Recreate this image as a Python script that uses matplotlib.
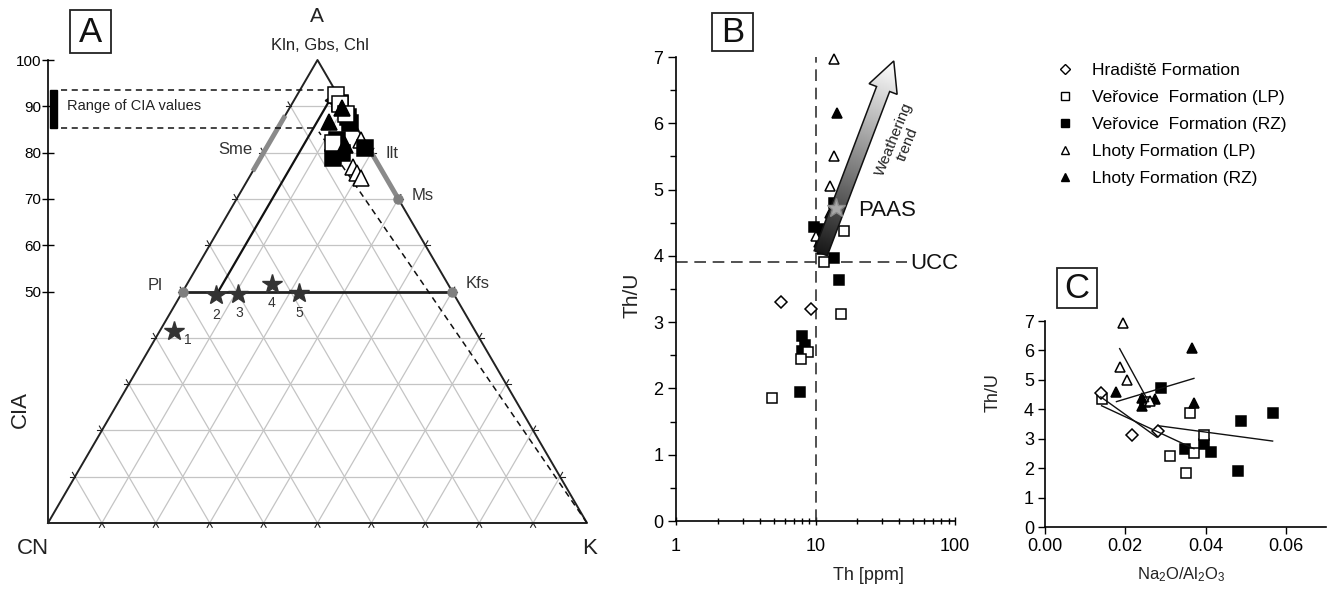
import numpy as np
import matplotlib
matplotlib.use('Agg')
import matplotlib.pyplot as plt
from matplotlib.lines import Line2D
from matplotlib.patches import Rectangle, Polygon
import matplotlib.ticker as mticker

plt.rcParams['font.family'] = ['Liberation Sans', 'DejaVu Sans']
plt.rcParams['mathtext.fontset'] = 'custom'
plt.rcParams['mathtext.rm'] = 'Liberation Sans'
plt.rcParams['mathtext.it'] = 'Liberation Sans:italic'

# ---------------- DATA ----------------
# Panel A (ternary A-CN-K): CIA (=A %) and K %
cia_ticks = [50, 60, 70, 80, 90, 100]
verLP_a_cia = [92.4, 90.5, 82.1, 88.3]
verLP_a_k = [7.2, 9.0, 11.8, 11.2]
verRZ_a_cia = [90.7, 87.7, 86.4, 82.7, 78.8, 79.9, 81.0]
verRZ_a_k = [8.8, 11.8, 12.8, 12.2, 13.5, 14.6, 18.3]
lhRZ_a_cia = [86.6, 89.6, 81.6]
lhRZ_a_k = [8.8, 9.8, 14.3]
lhLP_a_cia = [82.7, 76.9, 75.6, 74.5]
lhLP_a_k = [16.8, 18.2, 19.5, 20.8]
star_cia = [41.5, 49.2, 49.5, 51.6, 49.7]
star_k = [2.7, 6.6, 10.5, 15.7, 21.8]
star_labels = ['1', '2', '3', '4', '5']
mineral_names = ['Pl', 'Kfs', 'Ms']
mineral_cia = [50, 50, 70]
mineral_k = [0, 50, 30]
sme_cia = [76, 88]
sme_k = [0, 0]
ilt_cia = [80, 70]
ilt_k = [20, 30]
wline_cia = [49.2, 92.5]
wline_k = [6.6, 6.6]
kline_cia = [0, 84.5]
kline_k = [100, 8.0]
cia_range = [85.4, 93.5]

# Panel B: Th (ppm) vs Th/U
hrad_b_th = [5.7, 9.35]
hrad_b_thu = [3.31, 3.20]
verLP_b_th = [16.1, 11.5, 15.2, 8.8, 7.85, 4.9]
verLP_b_thu = [4.38, 3.90, 3.13, 2.55, 2.45, 1.85]
verRZ_b_th = [13.5, 9.7, 10.9, 13.5, 14.8, 8.0, 8.35, 8.0, 7.77]
verRZ_b_thu = [4.79, 4.44, 4.41, 3.97, 3.64, 2.79, 2.65, 2.56, 1.94]
lhLP_b_th = [13.5, 13.5, 12.7, 10.0]
lhLP_b_thu = [6.97, 5.51, 5.05, 4.30]
lhRZ_b_th = [14.3, 12.7, 10.6, 11.2, 10.4]
lhRZ_b_thu = [6.16, 4.65, 4.21, 4.10, 4.33]
ucc_th, ucc_thu = 10.0, 3.9
paas_th, paas_thu = 14.0, 4.72
trend_th = [10.9, 36.4]
trend_thu = [4.04, 6.94]

# Panel C: Na2O/Al2O3 vs Th/U
hrad_c_x = [0.0139, 0.0217, 0.0281]
hrad_c_y = [4.57, 3.13, 3.26]
verLP_c_x = [0.0141, 0.0250, 0.0311, 0.0352, 0.0361, 0.0371, 0.0396]
verLP_c_y = [4.34, 4.25, 2.41, 1.82, 3.86, 2.51, 3.11]
verRZ_c_x = [0.0288, 0.0348, 0.0396, 0.0414, 0.0482, 0.0488, 0.0567]
verRZ_c_y = [4.71, 2.64, 2.83, 2.55, 1.90, 3.59, 3.89]
lhLP_c_x = [0.0194, 0.0186, 0.0204, 0.0262]
lhLP_c_y = [6.92, 5.44, 4.99, 4.28]
lhRZ_c_x = [0.0178, 0.0242, 0.0242, 0.0275, 0.0367, 0.0371]
lhRZ_c_y = [4.60, 4.40, 4.12, 4.34, 6.08, 4.23]
fit_hrad_x, fit_hrad_y = [0.0139, 0.0279], [4.42, 3.05]
fit_verLP_x, fit_verLP_y = [0.0141, 0.0371], [4.12, 2.66]
fit_verRZ_x, fit_verRZ_y = [0.0283, 0.0567], [3.44, 2.92]
fit_lhLP_x, fit_lhLP_y = [0.0186, 0.0258], [6.06, 4.26]
fit_lhRZ_x, fit_lhRZ_y = [0.0178, 0.0371], [4.26, 5.05]
c_xticks = [0.00, 0.02, 0.04, 0.06]

legend_labels = ['Hradiště Formation', 'Veřovice  Formation (LP)',
                 'Veřovice  Formation (RZ)', 'Lhoty Formation (LP)',
                 'Lhoty Formation (RZ)']

# ---------------- FIGURE ----------------
W, H = 1329, 590
fig = plt.figure(figsize=(W / 100, H / 100), dpi=100)


def fbox(x0, y0, x1, y1):
    return [x0 / W, 1 - y1 / H, (x1 - x0) / W, (y1 - y0) / H]


def ftext(px, py, s, **kw):
    kw.setdefault('ha', 'center')
    kw.setdefault('va', 'center')
    return fig.text(px / W, 1 - py / H, s, **kw)


def letter_box(x0, y0, x1, y1, s):
    fig.add_artist(Rectangle((x0 / W, 1 - y1 / H), (x1 - x0) / W, (y1 - y0) / H,
                             transform=fig.transFigure, fill=False, lw=1.3, ec='#222222'))
    ftext((x0 + x1) / 2, (y0 + y1) / 2 + 1, s, fontsize=25, color='#111111')


STY = {
    'hrad': dict(marker='D', mfc='white', mec='black'),
    'verLP': dict(marker='s', mfc='white', mec='black'),
    'verRZ': dict(marker='s', mfc='black', mec='black'),
    'lhLP': dict(marker='^', mfc='white', mec='black'),
    'lhRZ': dict(marker='^', mfc='black', mec='black'),
}

# ======== Panel A ========
axA = fig.add_axes(fbox(48, 60, 587, 523))
axA.set_xlim(0, 1)
axA.set_ylim(0, 100)
axA.patch.set_alpha(0)
for s in ['top', 'right', 'bottom']:
    axA.spines[s].set_visible(False)
axA.spines['left'].set_linewidth(1.2)
axA.set_xticks([])
axA.set_yticks(cia_ticks)
axA.tick_params(axis='y', direction='inout', length=8, width=1, labelsize=11, pad=1)

SX, SY = 539.0, 463.0 / 100.0


def tx(cia, k):
    return np.asarray(k, float) / 100.0 + np.asarray(cia, float) / 200.0


def ext(p, q, L=5.0):
    d = np.array([(q[0] - p[0]) * SX, (q[1] - p[1]) * SY])
    d /= np.hypot(*d)
    return (q[0] + d[0] * L / SX, q[1] + d[1] * L / SY)


for v in range(10, 100, 10):
    segs = [((tx(v, 0), v), (tx(v, 100 - v), v)),
            ((tx(0, v), 0), (tx(100 - v, v), 100 - v)),
            ((tx(0, 100 - v), 0), (tx(100 - v, 0), 100 - v))]
    for p, q in segs:
        axA.plot([p[0], q[0]], [p[1], q[1]], color='#c4c4c4', lw=0.9, zorder=1)
        for a, b in [(p, q), (q, p)]:
            e = ext(a, b)
            axA.plot([b[0], e[0]], [b[1], e[1]], color='#222222', lw=0.8, zorder=2,
                     clip_on=False)

# triangle
axA.plot([0, 1, 0.5, 0], [0, 0, 100, 0], color='#222222', lw=1.4, zorder=3, clip_on=False)

# Sme and Ilt-Ms gray segments
axA.plot(tx(sme_cia, sme_k), sme_cia, color='#8a8a8a', lw=3.5, zorder=3, solid_capstyle='butt')
axA.plot(tx(ilt_cia, ilt_k), ilt_cia, color='#8a8a8a', lw=3.5, zorder=3, solid_capstyle='butt')

# Pl - Kfs line
axA.plot(tx(mineral_cia[:2], mineral_k[:2]), mineral_cia[:2], color='#222222', lw=2.0, zorder=3)
axA.plot(tx(mineral_cia, mineral_k), mineral_cia, 'o', ls='none', color='#7f7f7f', ms=6.5,
         zorder=4, clip_on=False)

# dashed line toward K and weathering line
axA.plot(tx(kline_cia, kline_k), kline_cia, color='#111111', lw=1.1, ls=(0, (4, 3)), zorder=3,
         clip_on=False)
wx = tx(wline_cia, wline_k)
axA.annotate('', xy=(wx[1], wline_cia[1]), xytext=(wx[0], wline_cia[0]),
             arrowprops=dict(arrowstyle='-|>', color='#111111', lw=1.6, mutation_scale=11,
                             shrinkA=0, shrinkB=0), zorder=3)

# CIA range
axA.add_patch(Rectangle((0.003, cia_range[0]), 0.013, cia_range[1] - cia_range[0],
                        color='black', zorder=4, clip_on=False))
x_hi = tx(cia_range[1], wline_k[0])
x_lo = 1 + (tx(kline_cia[1], kline_k[1]) - 1) * cia_range[0] / kline_cia[1]
axA.plot([0.024, x_hi], [cia_range[1]] * 2, color='#111111', lw=1.1, ls=(0, (4, 3)), zorder=3)
axA.plot([0.024, x_lo], [cia_range[0]] * 2, color='#111111', lw=1.1, ls=(0, (4, 3)), zorder=3)
ftext(67, 106, 'Range of CIA values', fontsize=10.5, ha='left', color='#222222')

# data points
for key, cx, kx in [('lhLP', lhLP_a_cia, lhLP_a_k), ('verRZ', verRZ_a_cia, verRZ_a_k),
                    ('verLP', verLP_a_cia, verLP_a_k), ('lhRZ', lhRZ_a_cia, lhRZ_a_k)]:
    axA.plot(tx(cx, kx), cx, ls='none', ms=11, mew=1.1, zorder=5, clip_on=False, **STY[key])

# stars
axA.plot(tx(star_cia, star_k), star_cia, ls='none', marker='*', ms=15, color='#333333', zorder=6)
star_lab_px = [(188, 340), (216, 315), (239, 313), (272, 303), (299, 313)]
for (px, py), s in zip(star_lab_px, star_labels):
    ftext(px, py, s, fontsize=10, color='#333333')

# texts A
for (px, py), s in zip([(155, 285), (478, 284), (423, 196)], mineral_names):
    ftext(px, py, s, fontsize=12, color='#333333')
ftext(235, 150, 'Sme', fontsize=12, color='#333333')
ftext(392, 153, 'Ilt', fontsize=12, color='#333333')
ftext(317, 17, 'A', fontsize=15, color='#222222')
ftext(320, 46, 'Kln, Gbs, Chl', fontsize=12, color='#222222')
ftext(33, 548, 'CN', fontsize=16, color='#222222')
ftext(590, 548, 'K', fontsize=16, color='#222222')
ftext(20, 410, 'CIA', fontsize=16, rotation=90, color='#222222')
letter_box(70, 10, 111, 53, 'A')

# ======== Panel B ========
axB = fig.add_axes(fbox(676, 57, 955, 521))
axB.set_xscale('log')
axB.set_xlim(1, 100)
axB.set_ylim(0, 7)
axB.patch.set_alpha(0)
for s in ['top', 'right']:
    axB.spines[s].set_visible(False)
for s in ['left', 'bottom']:
    axB.spines[s].set_linewidth(1.2)
axB.set_yticks(range(0, 8))
axB.yaxis.set_minor_locator(mticker.MultipleLocator(0.5))
axB.xaxis.set_major_locator(mticker.FixedLocator([1, 10, 100]))
axB.xaxis.set_major_formatter(mticker.FixedFormatter(['1', '10', '100']))
axB.xaxis.set_minor_locator(mticker.LogLocator(base=10, subs=np.arange(2, 10)))
axB.xaxis.set_minor_formatter(mticker.NullFormatter())
axB.tick_params(axis='both', which='major', labelsize=13, width=1, length=6, pad=3)
axB.tick_params(axis='both', which='minor', width=1, length=4)
axB.tick_params(axis='x', which='both', direction='inout')
axB.tick_params(axis='x', which='major', pad=9)

axB.axhline(ucc_thu, xmin=0, xmax=np.log10(45) / 2, color='#333333', lw=1.2,
            ls=(0, (7, 4)), zorder=2)
axB.axvline(ucc_th, color='#333333', lw=1.2, ls=(0, (7, 4)), zorder=2)

for key, xs, ys in [('verRZ', verRZ_b_th, verRZ_b_thu), ('verLP', verLP_b_th, verLP_b_thu),
                    ('lhRZ', lhRZ_b_th, lhRZ_b_thu), ('lhLP', lhLP_b_th, lhLP_b_thu),
                    ('hrad', hrad_b_th, hrad_b_thu)]:
    ms = 6.5 if key == 'hrad' else 7.5
    axB.plot(xs, ys, ls='none', ms=ms, mew=1.1, zorder=4, clip_on=False, **STY[key])

# gradient arrow (weathering trend)
p0 = axB.transData.transform((trend_th[0], trend_thu[0]))
p1 = axB.transData.transform((trend_th[1], trend_thu[1]))
u = p1 - p0
L = np.hypot(*u)
u = u / L
n = np.array([-u[1], u[0]])
w, hw, hl = 7.0, 15.0, 30.0
pts = [p0 + n * w, p1 - u * hl + n * w, p1 - u * hl + n * hw, p1,
       p1 - u * hl - n * hw, p1 - u * hl - n * w, p0 - n * w]
pts_ax = axB.transAxes.inverted().transform(np.array(pts))
poly = Polygon(pts_ax, closed=True, transform=axB.transAxes, fc='none', ec='#111111',
               lw=1.1, zorder=6)
axB.add_patch(poly)
bb = axB.bbox
gx = np.linspace(0, 1, 300)
gy = np.linspace(0, 1, 500)
GX, GY = np.meshgrid(gx, gy)
DX = bb.x0 + GX * bb.width
DY = bb.y0 + GY * bb.height
t = np.clip(((DX - p0[0]) * u[0] + (DY - p0[1]) * u[1]) / L, 0, 1)
img = axB.imshow(t, origin='lower', extent=(0, 1, 0, 1), transform=axB.transAxes,
                 cmap='gray', vmin=-0.1, vmax=1.0, aspect='auto', zorder=5,
                 interpolation='bilinear')
img.set_clip_path(poly)
axB.set_xlim(1, 100)
axB.set_ylim(0, 7)

axB.plot([paas_th], [paas_thu], marker='*', ms=14, color='#a8a8a8', mec='#8c8c8c', zorder=7)
axB.text(20.2, 4.68, 'PAAS', fontsize=16, ha='left', va='center', color='#111111')
axB.text(48, 3.88, 'UCC', fontsize=16, ha='left', va='center', color='#111111')
axB.text(41, 5.72, 'Weathering\ntrend', fontsize=11, rotation=68, ha='center', va='center',
         multialignment='center', color='#222222', linespacing=1.0)

ftext(632, 295, 'Th/U', fontsize=15, rotation=90, color='#222222')
ftext(868, 576, 'Th [ppm]', fontsize=13, color='#222222')
letter_box(712, 13, 753, 51, 'B')

# ======== Panel C ========
axC = fig.add_axes(fbox(1045, 321, 1326, 527))
axC.set_xlim(0, 0.07)
axC.set_ylim(0, 7)
axC.patch.set_alpha(0)
for s in ['top', 'right']:
    axC.spines[s].set_visible(False)
for s in ['left', 'bottom']:
    axC.spines[s].set_linewidth(1.2)
axC.set_xticks(c_xticks)
axC.set_xticklabels(['%.2f' % v for v in c_xticks])
axC.set_yticks(range(0, 8))
axC.tick_params(axis='both', labelsize=13, width=1, length=5, pad=3)

for xs, ys in [(fit_hrad_x, fit_hrad_y), (fit_verLP_x, fit_verLP_y), (fit_verRZ_x, fit_verRZ_y),
               (fit_lhLP_x, fit_lhLP_y), (fit_lhRZ_x, fit_lhRZ_y)]:
    axC.plot(xs, ys, color='#111111', lw=1.0, zorder=5)

for key, xs, ys in [('verRZ', verRZ_c_x, verRZ_c_y), ('verLP', verLP_c_x, verLP_c_y),
                    ('lhRZ', lhRZ_c_x, lhRZ_c_y), ('lhLP', lhLP_c_x, lhLP_c_y),
                    ('hrad', hrad_c_x, hrad_c_y)]:
    ms = 6.0 if key == 'hrad' else 7.5
    axC.plot(xs, ys, ls='none', ms=ms, mew=1.1, zorder=4, clip_on=False, **STY[key])

ftext(993, 393, 'Th/U', fontsize=13, rotation=90, color='#222222')
ftext(1181, 575, r'Na$_2$O/Al$_2$O$_3$', fontsize=12, color='#222222')
letter_box(1057, 268, 1097, 308, 'C')

# ======== Legend ========
handles = [Line2D([], [], ls='none', ms=ms, mew=1.0, **STY[k])
           for k, ms in [('hrad', 5.5), ('verLP', 5.5), ('verRZ', 5.5), ('lhLP', 6), ('lhRZ', 6)]]
fig.legend(handles, legend_labels, loc='upper left', bbox_to_anchor=(1056 / W, 1 - 63 / H),
           frameon=False, fontsize=12.5, handlelength=1.0, handletextpad=1.05,
           labelspacing=0.68, borderaxespad=0, borderpad=0)

fig.savefig('out.png', dpi=100)
